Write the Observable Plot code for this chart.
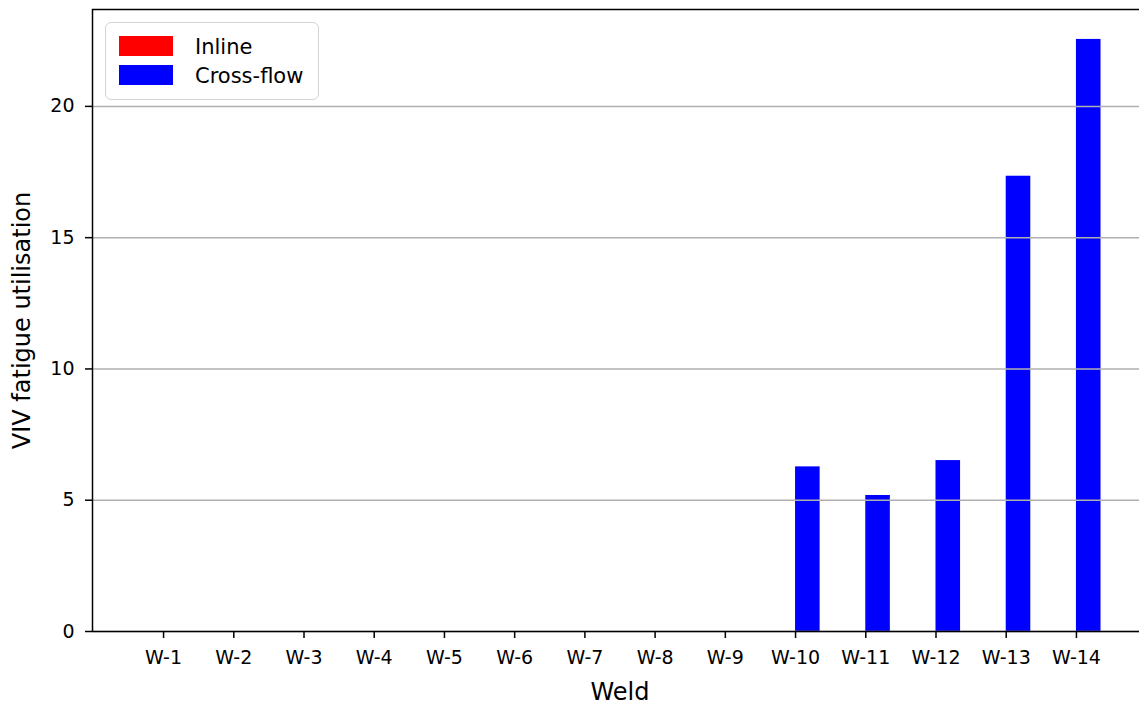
<!DOCTYPE html>
<html><head><meta charset="utf-8">
<script src="https://cdn.jsdelivr.net/npm/d3@7"></script>
<script src="https://cdn.jsdelivr.net/npm/@observablehq/plot@0.6"></script>
<style>
html,body{margin:0;padding:0;background:#fff;overflow:hidden;width:1139px;height:704px}
#wrap{position:relative;width:1147px;height:704px;font-family:"DejaVu Sans",sans-serif}
#wrap svg{position:absolute;left:0;top:0}
.legend{position:absolute;left:105px;top:22px;width:214px;height:78px;border:1.5px solid #d3d3d3;border-radius:6px;background:rgba(255,255,255,0.85);box-sizing:border-box;font-size:21px;color:#000}
.item{position:absolute;left:13px;height:20px;display:flex;align-items:center}
.sw{width:54px;height:20px;margin-right:22px;flex:none}
</style></head>
<body><div id="wrap"></div>
<script>
const welds = ["W-1","W-2","W-3","W-4","W-5","W-6","W-7","W-8","W-9","W-10","W-11","W-12","W-13","W-14"];
const inlineVals = [0,0,0,0,0,0,0,0,0,0,0,0,0,0];
const crossflowVals = [0,0,0,0,0,0,0,0,0,6.27,5.18,6.51,17.34,22.55];
const seriesNames = ["Inline","Cross-flow"];
const seriesColors = ["#ff0000","#0000ff"];
const yTicks = [0,5,10,15,20];
const barWidth = 0.35;

const rows = [];
welds.forEach((w,i)=>{
  rows.push({i, series:"Inline", value: inlineVals[i], x1: i - barWidth, x2: i});
  rows.push({i, series:"Cross-flow", value: crossflowVals[i], x1: i, x2: i + barWidth});
});

const chart = Plot.plot({
  width: 1147, height: 704,
  marginLeft: 92, marginRight: 0, marginTop: 9, marginBottom: 73,
  style: {fontFamily: '"DejaVu Sans", sans-serif', fontSize: "19px", background: "#fff", color: "#000"},
  x: {domain: [-1.012, 14.012], label: null},
  y: {domain: [0, 23.69], label: null},
  color: {domain: seriesNames, range: seriesColors},
  marks: [
    Plot.rectY(rows, {x1: "x1", x2: "x2", y: "value", fill: "series", inset: 0}),
    Plot.gridY(yTicks, {stroke: "#b0b0b0", strokeOpacity: 1, strokeWidth: 1.5}),
    Plot.frame({stroke: "#000", strokeWidth: 1.5}),
    Plot.axisX({ticks: d3.range(welds.length), tickFormat: i => welds[i], tickSize: 7, tickPadding: 12, strokeWidth: 1.5, fontSize: 19, label: null}),
    Plot.axisY({ticks: yTicks, tickSize: 7, tickPadding: 11, strokeWidth: 1.5, fontSize: 19, label: null}),
    Plot.text(["Weld"], {frameAnchor: "bottom", dy: 68, text: d => d, fontSize: 24, lineAnchor: "bottom"}),
    Plot.text(["VIV fatigue utilisation"], {frameAnchor: "left", dx: -70, rotate: -90, textAnchor: "middle", text: d => d, fontSize: 24})
  ]
});
const wrap = document.getElementById("wrap");
wrap.appendChild(chart);

const leg = document.createElement("div");
leg.className = "legend";
seriesNames.forEach((n,k)=>{
  const it = document.createElement("div");
  it.className = "item";
  it.style.top = (13 + k*29) + "px";
  const sw = document.createElement("div");
  sw.className = "sw"; sw.style.background = seriesColors[k];
  const t = document.createElement("span"); t.textContent = n; t.style.position = "relative"; t.style.top = "1px"; t.style.whiteSpace = "nowrap";
  it.appendChild(sw); it.appendChild(t);
  leg.appendChild(it);
});
wrap.appendChild(leg);
</script></body></html>
